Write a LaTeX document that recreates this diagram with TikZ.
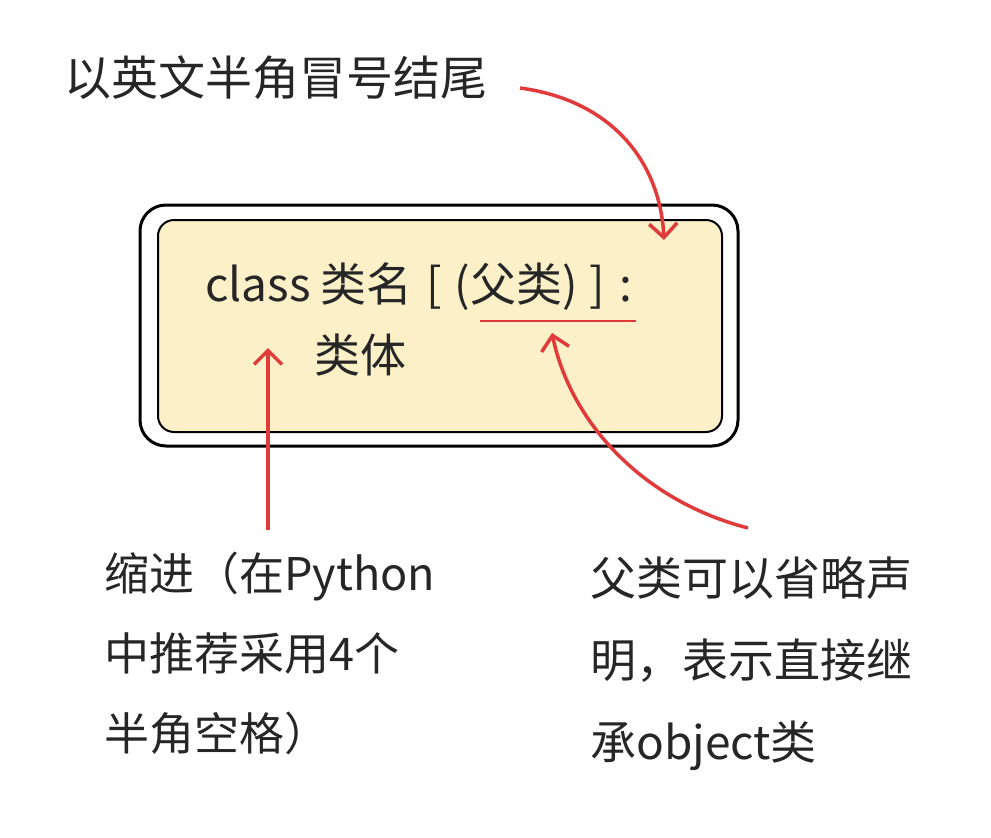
\documentclass[tikz,border=0pt]{standalone}
\usepackage{fontspec}
\setmainfont{Noto Sans CJK SC}
\usetikzlibrary{arrows.meta}
\definecolor{boxfill}{HTML}{FBF0C8}
\definecolor{arr}{HTML}{E03A3A}
\tikzset{
  lbl/.style={font=\fontsize{46}{80}\selectfont, anchor=west, inner sep=0pt, text=black!85},
  redarr/.style={arr, line width=3.5pt, -{Straight Barb[length=14pt,width=28pt]}},
}
\begin{document}
\begin{tikzpicture}[x=1pt,y=-1pt]
\useasboundingbox (0,0) rectangle (991,838);
\draw[line width=3pt, fill=white, rounded corners=26pt] (140,205) rectangle (738,446);
\draw[line width=2pt, fill=boxfill, rounded corners=16pt] (158,220) rectangle (722,432);
\node[lbl] (code) at (205,287) {class 类名\hspace{14pt}[\hspace{12pt}(父类)\hspace{12pt}]\hspace{14pt}:};
\node[lbl] (body) at (314,355) {类体};
\coordinate (u1) at (480,321); \coordinate (u2) at (636,321);
\draw[arr, line width=2pt] (u1) -- (u2);
\node[lbl, font=\fontsize{47}{80}\selectfont] (top) at (64,78) {以英文半角冒号结尾};
\node[lbl, align=left, anchor=north west, font=\fontsize{45}{80}\selectfont] (left) at (104,552) {缩进（在Python\\中推荐采用4个\\半角空格）};
\node[lbl, align=left, anchor=north west, font=\fontsize{46}{82}\selectfont] (right) at (590,556) {父类可以省略声\\明，表示直接继\\承object类};
\coordinate (a1s) at (520,88); \coordinate (a1e) at (664,240);
\draw[redarr] (a1s) .. controls (610,100) and (660,160) .. (a1e);
\coordinate (a2s) at (268,530); \coordinate (a2e) at (268,348);
\draw[redarr] (a2s) -- (a2e);
\coordinate (a3s) at (748,528); \coordinate (a3e) at (552,333);
\draw[redarr] (a3s) .. controls (640,500) and (570,420) .. (a3e);
\end{tikzpicture}
\end{document}
